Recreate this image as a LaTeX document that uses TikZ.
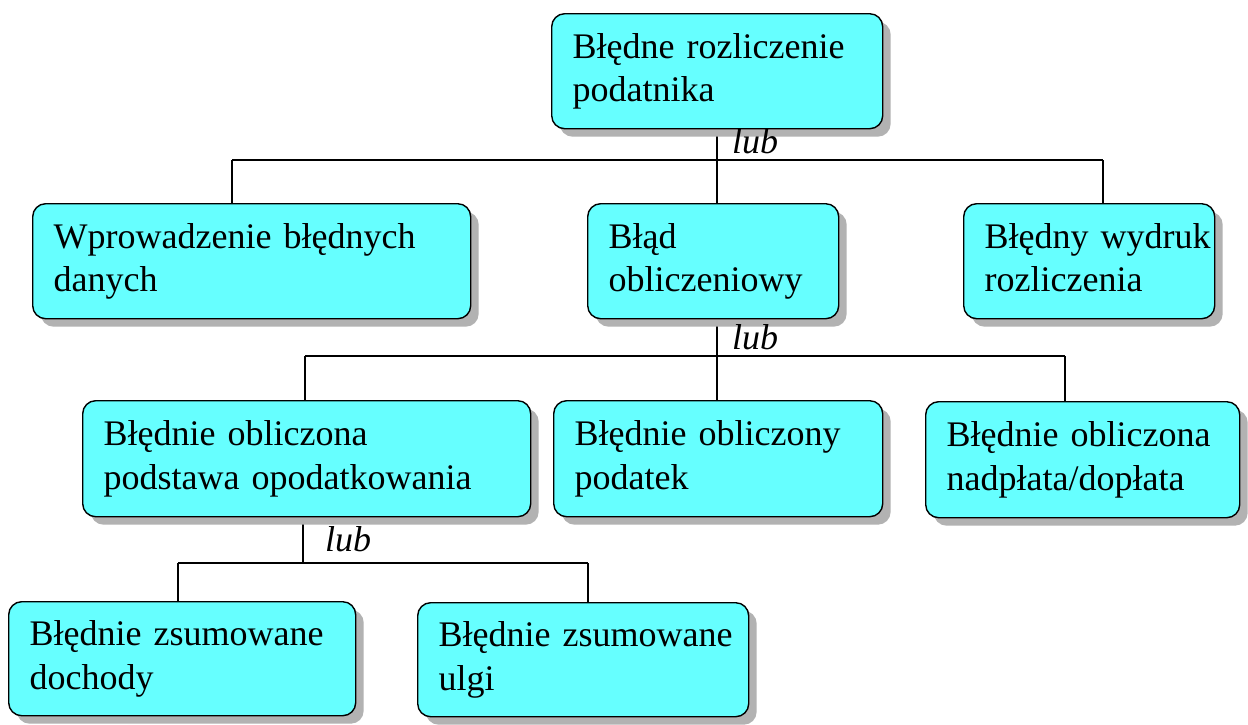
\documentclass[tikz,border=0pt]{standalone}
\usepackage{fontspec}
\setmainfont{Liberation Serif}
\usetikzlibrary{shadows}
\definecolor{boxfill}{RGB}{102,255,255}
\tikzset{
  box/.style={draw=black, line width=1.4pt, fill=boxfill, rounded corners=13pt,
    anchor=north west, align=left, inner xsep=0pt, inner ysep=0pt,
    font=\fontsize{36}{43.5}\selectfont,
    execute at begin node={\leftskip=21pt\relax},
    drop shadow={shadow xshift=8pt, shadow yshift=-8pt, fill=black!30, opacity=1}},
  conn/.style={draw=black, line width=1.4pt},
  lub/.style={font=\fontsize{36}{43.5}\selectfont\itshape, inner sep=0pt, anchor=base west}
}
\newcommand{\bx}[7]{% name, x1, y1, x2, y2, line1, line2
  \node[box, minimum width=#4pt-#2pt, minimum height=#5pt-#3pt, text width=#4pt-#2pt] (#1) at (#2,#3) {\strut #6\\#7\strut};}
\begin{document}
\begin{tikzpicture}[x=1pt,y=-1pt]
\useasboundingbox[fill=white] (0,0) rectangle (1248,724);
% bus coordinates
\coordinate (b1L) at (232,160);
\coordinate (b1R) at (1103,160);
\coordinate (b2L) at (305,356);
\coordinate (b2R) at (1065,356);
\coordinate (b3L) at (178,563);
\coordinate (b3R) at (588,563);
% connectors (drawn first, boxes on top)
\draw[conn] (b1L) -- (b1R);
\draw[conn] (717,128) -- (717,160);
\draw[conn] (b1L) -- (232,203);
\draw[conn] (717,160) -- (717,203);
\draw[conn] (b1R) -- (1103,203);
\draw[conn] (b2L) -- (b2R);
\draw[conn] (717,318) -- (717,356);
\draw[conn] (b2L) -- (305,400);
\draw[conn] (717,356) -- (717,400);
\draw[conn] (b2R) -- (1065,401);
\draw[conn] (b3L) -- (b3R);
\draw[conn] (303,516) -- (303,563);
\draw[conn] (b3L) -- (178,601);
\draw[conn] (b3R) -- (588,602);
% boxes
\bx{A}{551}{13}{882}{128}{Błędne rozliczenie}{podatnika}
\bx{B1}{32}{203}{470}{318}{Wprowadzenie błędnych}{danych}
\bx{B2}{587}{203}{838}{318}{Błąd}{obliczeniowy}
\bx{B3}{963}{203}{1214}{318}{Błędny wydruk}{rozliczenia}
\bx{C1}{82}{400}{530}{516}{Błędnie obliczona}{podstawa opodatkowania}
\bx{C2}{553}{400}{882}{516}{Błędnie obliczony}{podatek}
\bx{C3}{925}{401}{1239}{517}{Błędnie obliczona}{nadpłata/dopłata}
\bx{D1}{8}{601}{355}{715}{Błędnie zsumowane}{dochody}
\bx{D2}{417}{602}{748}{716}{Błędnie zsumowane}{ulgi}
% labels
\node[lub] (l1) at (732,153) {lub};
\node[lub] (l2) at (732,349) {lub};
\node[lub] (l3) at (325,551) {lub};
\end{tikzpicture}
\end{document}
